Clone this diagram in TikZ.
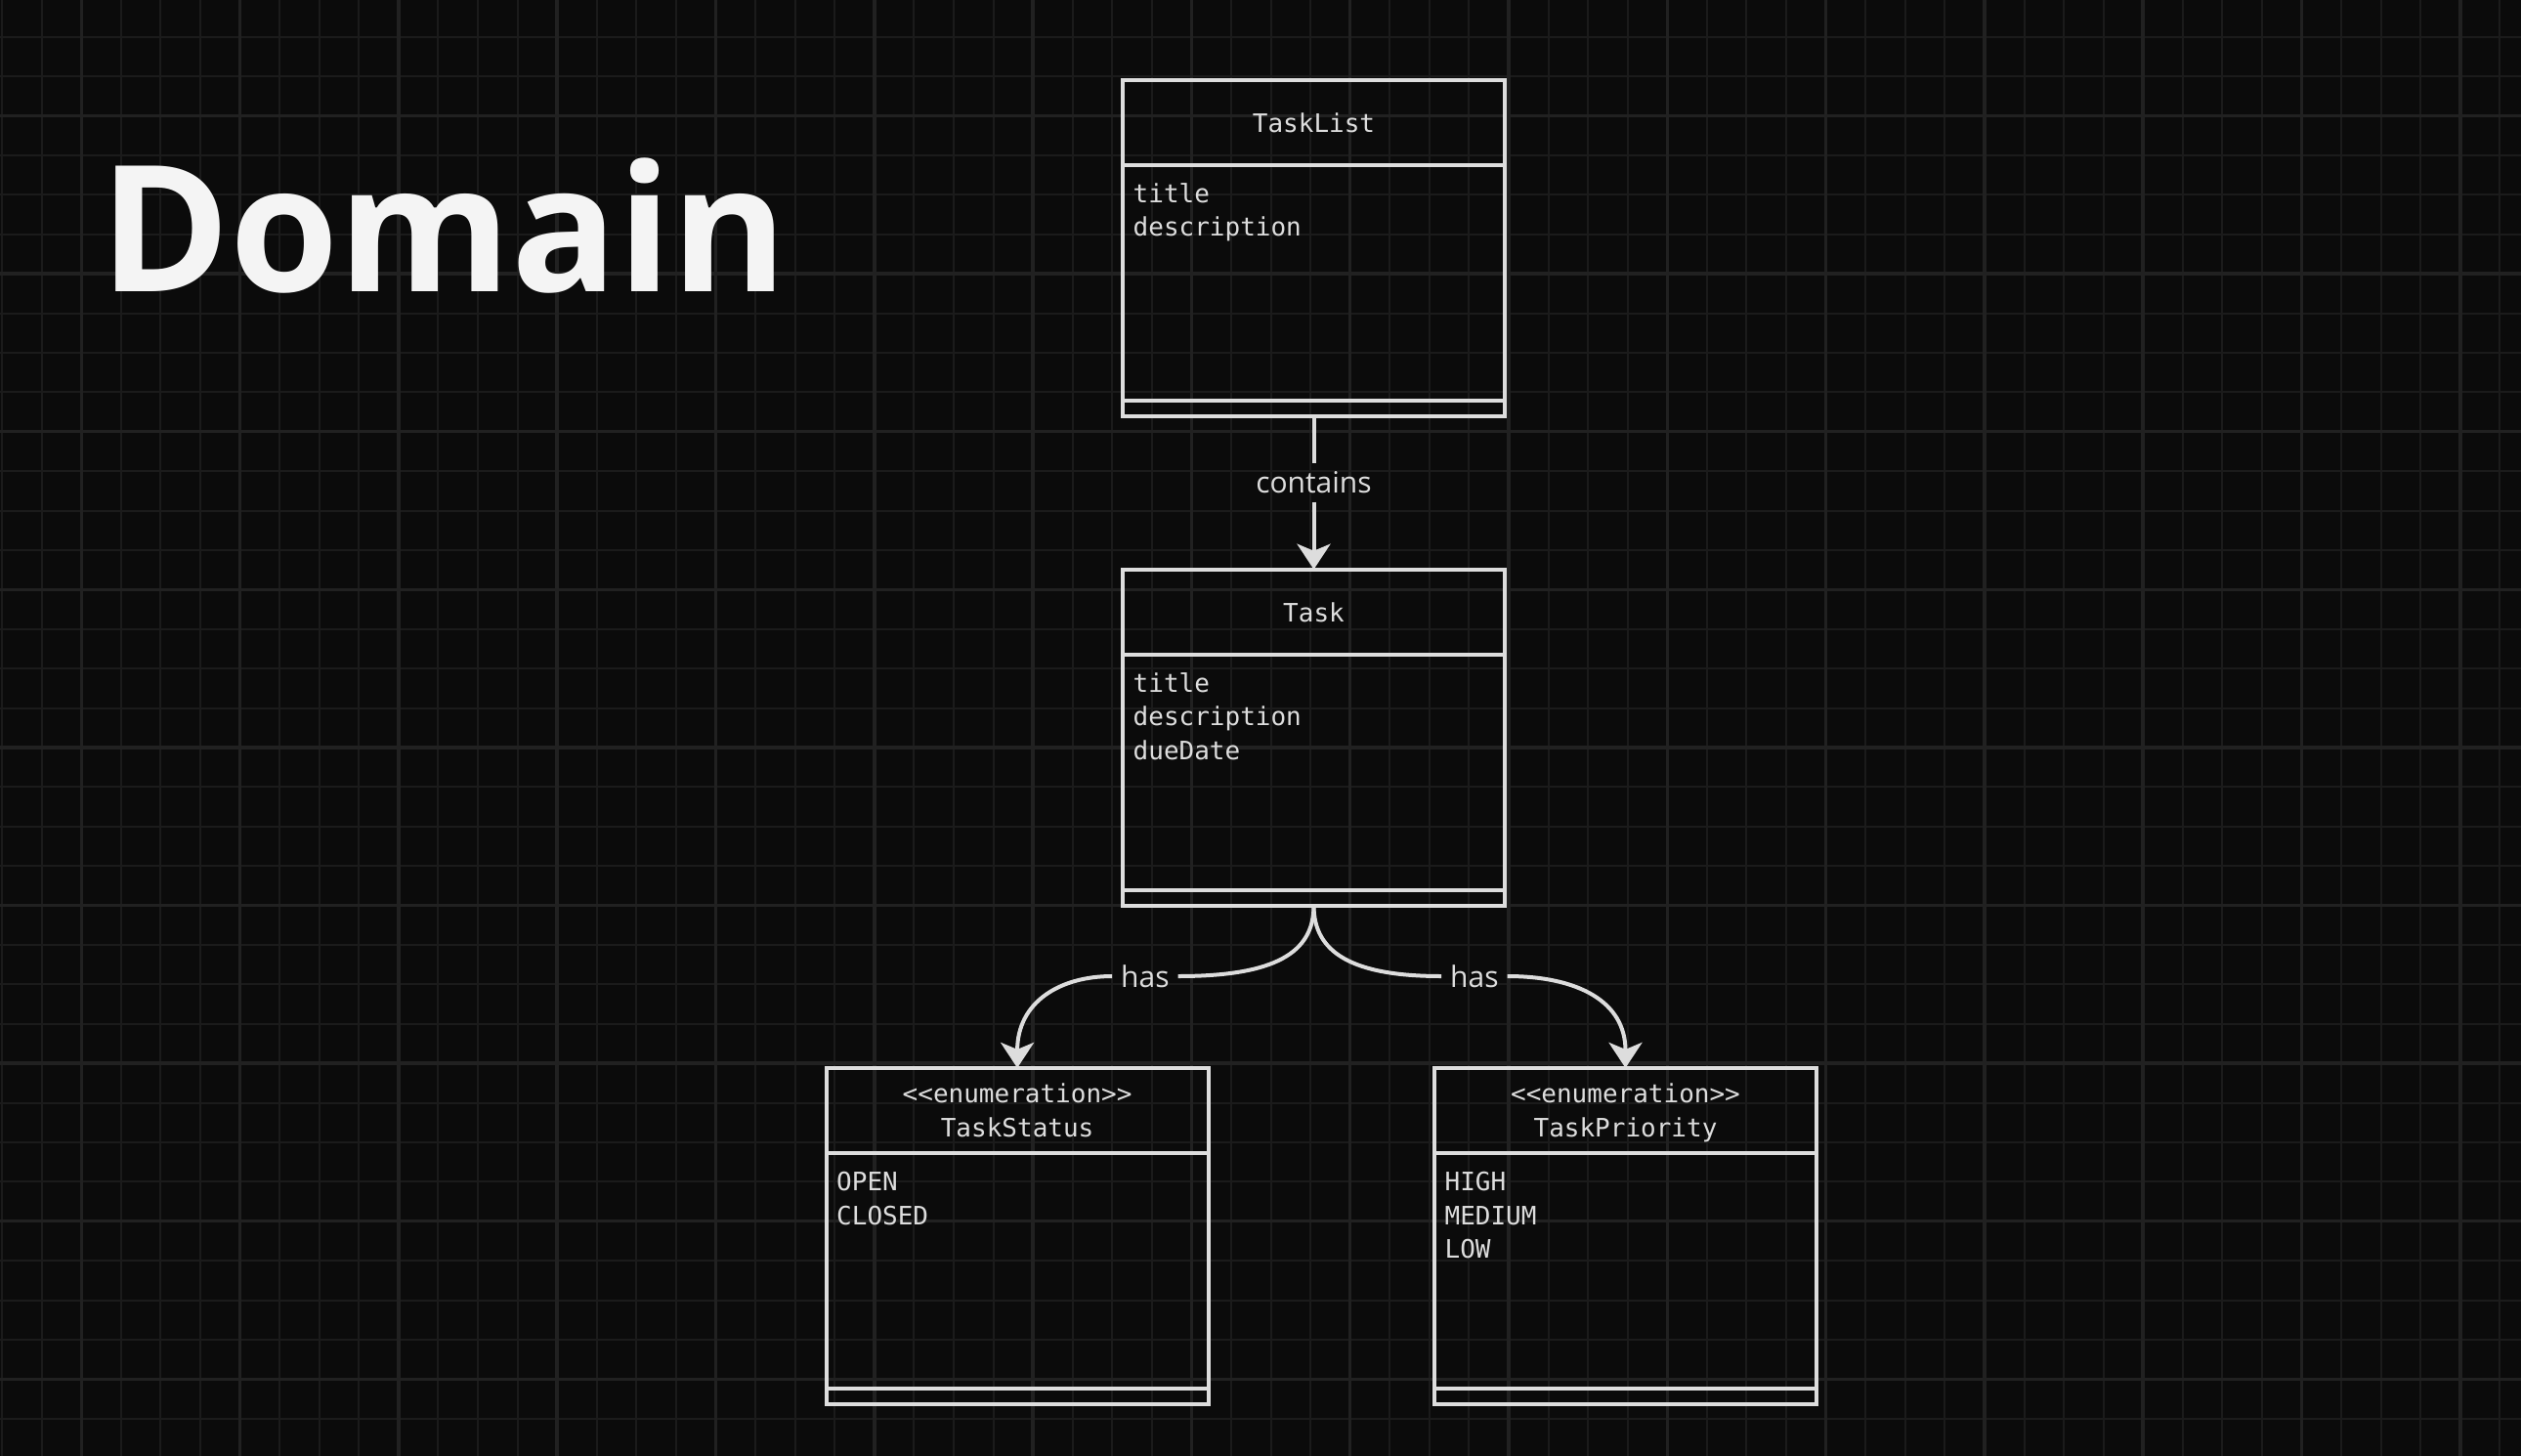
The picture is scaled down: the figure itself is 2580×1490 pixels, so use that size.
\documentclass[tikz,border=0pt]{standalone}
\usepackage{fontspec}
\setmainfont{Open Sans}
\newfontfamily\monofnt{DejaVu Sans Mono}
\usetikzlibrary{arrows.meta}
\definecolor{bgcol}{HTML}{0B0B0B}
\definecolor{gridmin}{HTML}{1B1B1B}
\definecolor{gridmaj}{HTML}{212121}
\definecolor{ink}{HTML}{DDDDDD}
\definecolor{titleink}{HTML}{F4F4F4}
\begin{document}
\begin{tikzpicture}[x=1pt,y=-1pt,
  gridminor/.style={draw=gridmin, line width=2pt},
  gridmajor/.style={draw=gridmaj, line width=3.5pt},
  umlbox/.style={draw=ink, line width=4pt, minimum width=391pt, minimum height=344pt, inner sep=0pt, outer sep=0pt, anchor=north west},
  boxtxt/.style={text=ink, font=\monofnt\fontsize{26}{30}\selectfont, inner sep=0pt},
  bodytxt/.style={boxtxt, anchor=base west},
  headtxt/.style={boxtxt, anchor=base},
  lbl/.style={text=ink, font=\fontsize{30}{34}\selectfont, inner xsep=9pt, inner ysep=0pt, outer sep=0pt, minimum height=40pt},
  conn/.style={draw=ink, line width=4pt},
  arr/.style={conn, -{Stealth[length=26pt,width=34pt,inset=7pt]}},
  sep/.style={draw=ink, line width=4pt}
]
\useasboundingbox (0,0) rectangle (2580,1490);
\fill[bgcol] (0,0) rectangle (2580,1490);
% grid
\foreach \i in {0,...,63} {\draw[gridminor] ({2.15+40.575*\i},0) -- ({2.15+40.575*\i},1490);}
\foreach \j in {1,...,37} {\draw[gridminor] (0,{-2.7+40.4*\j}) -- (2580,{-2.7+40.4*\j});}
\foreach \i in {0,...,15} {\draw[gridmajor] ({83.3+162.3*\i},0) -- ({83.3+162.3*\i},1490);}
\foreach \k in {0,...,8} {\draw[gridmajor] (0,{118.5+161.6*\k}) -- (2580,{118.5+161.6*\k});}

% title
\node[anchor=base west, inner sep=0pt, text=titleink, font=\bfseries\fontsize{180}{190}\selectfont] (domaintitle) at (102,298.3) {Domain};

% TaskList
\node[umlbox] (tasklist) at (1149,81.6) {};
\draw[sep] ([yshift=-87pt]tasklist.north west) -- ([yshift=-87pt]tasklist.north east);
\draw[sep] ([yshift=15.5pt]tasklist.south west) -- ([yshift=15.5pt]tasklist.south east);
\node[headtxt] (tlname) at (1344.5,135.4) {TaskList};
\node[bodytxt] (tla) at (1159.5,207.1) {title};
\node[bodytxt] (tlb) at (1159.5,241.8) {description};

% Task
\node[umlbox] (task) at (1149,582.7) {};
\draw[sep] ([yshift=-87pt]task.north west) -- ([yshift=-87pt]task.north east);
\draw[sep] ([yshift=15.5pt]task.south west) -- ([yshift=15.5pt]task.south east);
\node[headtxt] (taskname) at (1344.5,636.2) {Task};
\node[bodytxt] (ta) at (1159.5,708.2) {title};
\node[bodytxt] (tb) at (1159.5,742.9) {description};
\node[bodytxt] (tc) at (1159.5,777.6) {dueDate};

% TaskStatus
\node[umlbox] (status) at (845.6,1092.9) {};
\draw[sep] ([yshift=-87pt]status.north west) -- ([yshift=-87pt]status.north east);
\draw[sep] ([yshift=15.5pt]status.south west) -- ([yshift=15.5pt]status.south east);
\node[headtxt] (stenum) at (1041.1,1128.5) {<<enumeration>>};
\node[headtxt] (stname) at (1041.1,1163.5) {TaskStatus};
\node[bodytxt] (sa) at (856,1218.4) {OPEN};
\node[bodytxt] (sb) at (856,1253.1) {CLOSED};

% TaskPriority
\node[umlbox] (priority) at (1468,1092.9) {};
\draw[sep] ([yshift=-87pt]priority.north west) -- ([yshift=-87pt]priority.north east);
\draw[sep] ([yshift=15.5pt]priority.south west) -- ([yshift=15.5pt]priority.south east);
\node[headtxt] (prenum) at (1663.5,1128.5) {<<enumeration>>};
\node[headtxt] (prname) at (1663.5,1163.5) {TaskPriority};
\node[bodytxt] (pa) at (1478.4,1218.4) {HIGH};
\node[bodytxt] (pb) at (1478.4,1253.1) {MEDIUM};
\node[bodytxt] (pc) at (1478.4,1287.8) {LOW};

% connectors
\node[lbl] (contains) at (1344.5,493.5) {contains};
\draw[conn] (tasklist.south) -- (contains.north);
\draw[arr] (contains.south) -- (task.north);

\node[lbl] (hasL) at (1171.9,999) {has};
\node[lbl] (hasR) at (1508.9,999) {has};
\draw[conn] (task.south) .. controls (1344.5,975) and (1305,999) .. (hasL.east);
\draw[arr] (hasL.west) .. controls (1085,999) and (1041.1,1025) .. (status.north);
\draw[conn] (task.south) .. controls (1344.5,975) and (1384,999) .. (hasR.west);
\draw[arr] (hasR.east) .. controls (1615,999) and (1663.5,1025) .. (priority.north);
\end{tikzpicture}
\end{document}
